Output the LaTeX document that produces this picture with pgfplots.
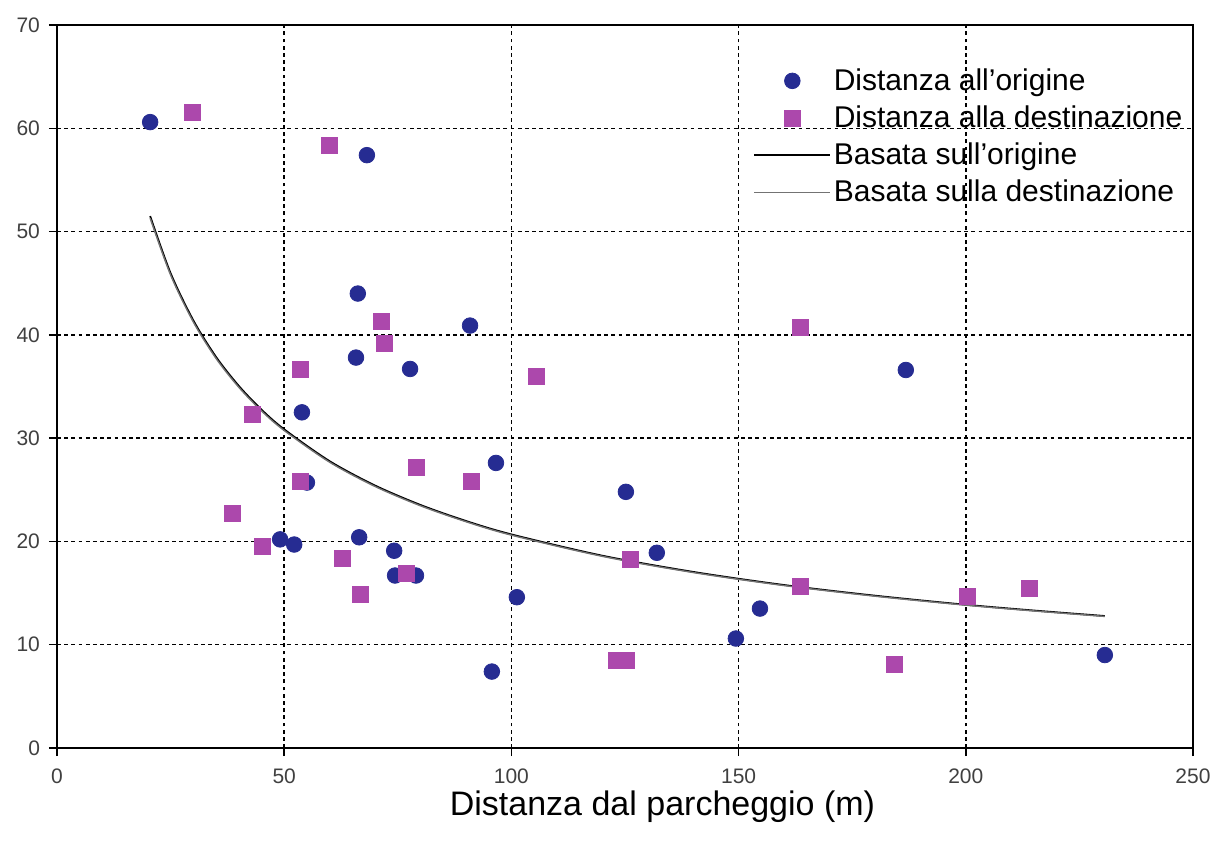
\documentclass[border=0pt]{standalone}
\usepackage{fontspec}
\setmainfont{Liberation Sans}
\usepackage{pgfplots}
\pgfplotsset{compat=1.18}
\definecolor{origblue}{RGB}{38,44,146}
\definecolor{destmag}{RGB}{172,72,172}
\pgfplotsset{
  marklegend/.style={legend image code/.code={\draw[##1] plot coordinates {(19pt,0pt)};}},
  linelegend/.style={legend image code/.code={\draw[##1] (0pt,0pt) -- (38pt,0pt);}},
}
\begin{document}
\begin{tikzpicture}
\useasboundingbox (-28.5pt,-50pt) rectangle (579.5pt,374pt);
\begin{axis}[
  at={(0,0)}, anchor=south west,
  scale only axis, width=568pt, height=361.5pt,
  xmin=0, xmax=250, ymin=0, ymax=70,
  xtick={0,50,...,250}, ytick={0,10,...,70},
  grid=major,
  grid style={black, line width=0.75pt, dash pattern=on 1.9pt off 1.7pt},
  axis line style={black, line width=0.7pt},
  tick style={black, line width=0.7pt},
  tick align=outside, major tick length=4pt, tick pos=left,
  tick label style={font=\fontsize{10.5}{12}\selectfont, text=black!75},
  xticklabel style={yshift=-3pt},
  yticklabel style={xshift=-1pt},
  /pgf/number format/assume math mode=true,
  xlabel={Distanza dal parcheggio (m)},
  xlabel style={font=\fontsize{17}{20}\selectfont, at={(axis description cs:0.533,0)}, anchor=north, inner sep=0pt, yshift=-21pt},
  legend style={at={(0.6127,0.944)}, anchor=north west, draw=none, fill=none,
    font=\fontsize{15}{18}\selectfont, row sep=3.6pt, inner sep=0pt,
    nodes={inner sep=1.3pt}},
  legend cell align=left,
]
\addplot[only marks, mark=*, mark size=3.9pt, color=origblue, marklegend]
coordinates {
(20.5,60.6) (68.2,57.4) (66.2,44.0) (65.8,37.8) (90.9,40.9) (77.7,36.7)
(53.9,32.5) (55.0,25.7) (96.6,27.6) (125.2,24.8) (49.1,20.2) (52.2,19.7)
(66.5,20.4) (74.2,19.1) (74.4,16.7) (79.0,16.7) (132.0,18.9) (101.2,14.6)
(95.7,7.4) (149.4,10.6) (154.7,13.5) (186.8,36.6) (230.6,9.0)
};
\addlegendentry{Distanza all’origine}
\addplot[only marks, mark=square*, mark size=4pt, color=destmag, marklegend]
coordinates {
(29.7,61.5) (59.9,58.3) (71.3,41.3) (72.0,39.2) (53.5,36.7) (105.4,36.0)
(42.9,32.3) (53.5,25.8) (79.0,27.2) (91.1,25.8) (38.5,22.7) (45.1,19.5)
(62.7,18.4) (76.8,16.9) (66.7,14.9) (126.1,18.3) (163.5,40.7) (163.7,15.6)
(200.3,14.7) (214.1,15.5) (123.0,8.5) (125.4,8.5) (184.2,8.1)
};
\addlegendentry{Distanza alla destinazione}
\addplot[black, line width=0.9pt, smooth, linelegend]
coordinates {
(20.5,51.5) (25,45.97) (30,41.4) (35,37.86) (40,35.06) (45,32.76) (50,30.85)
(60,27.77) (70,25.41) (80,23.53) (90,21.98) (100,20.68) (120,18.62)
(140,17.05) (160,15.78) (180,14.75) (200,13.87) (215,13.31) (230.6,12.78)
};
\addlegendentry{Basata sull’origine}
\addplot[black!55, line width=0.7pt, smooth, linelegend]
coordinates {
(20.5,51.3) (25,45.8) (30,41.25) (35,37.72) (40,34.93) (45,32.64) (50,30.74)
(60,27.67) (70,25.32) (80,23.45) (90,21.91) (100,20.61) (120,18.56)
(140,16.99) (160,15.73) (180,14.70) (200,13.83) (215,13.27) (230.6,12.74)
};
\addlegendentry{Basata sulla destinazione}
\end{axis}
\end{tikzpicture}
\end{document}
